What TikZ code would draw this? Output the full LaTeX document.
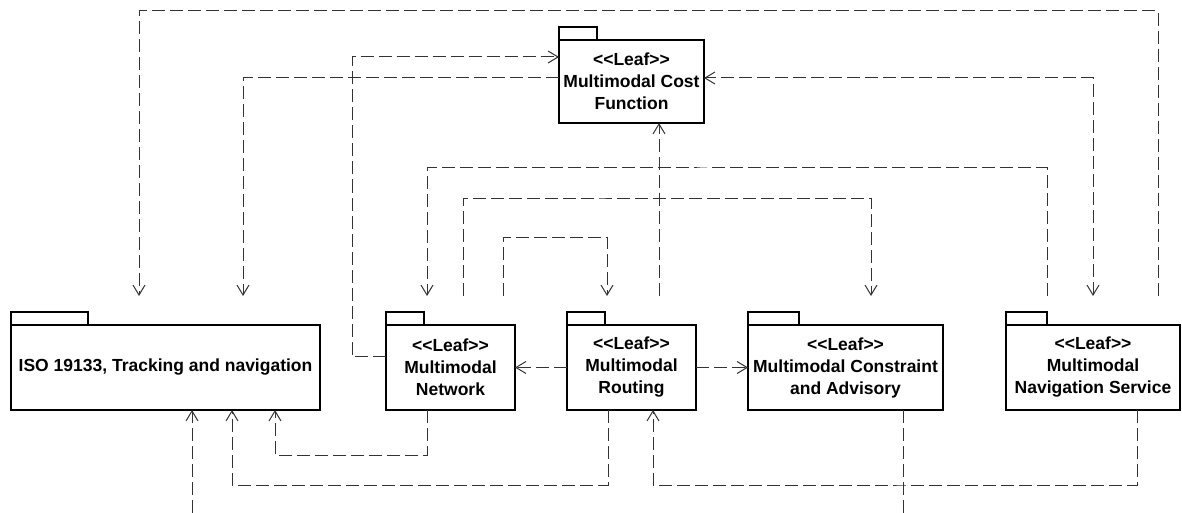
\documentclass[tikz,border=0pt]{standalone}
\usepackage{fontspec}
\setmainfont{Liberation Sans}
\usetikzlibrary{arrows.meta}

\newcommand\leaf{<\kern0pt<Leaf>\kern0pt>}

\begin{document}
\begin{tikzpicture}[x=1pt, y=-1pt, >={Straight Barb[length=10pt, width=12pt]}]
\tikzstyle{pkg} = [draw, line width=2pt, outer sep=0pt, inner sep=2pt, minimum height=85, align=center, font=\fontsize{17.5}{22}\selectfont\bfseries]
\tikzstyle{tab} = [draw, line width=2pt]
\tikzstyle{dep} = [black!80, line width=1pt, dash pattern=on 13pt off 5pt, ->]
\tikzstyle{lift} = [shorten >=29pt]
\useasboundingbox (0,0) rectangle (1182,513);

\node[pkg, minimum width=309] (iso) at (165.5,367.5) {ISO 19133, Tracking and navigation};
\node[pkg, minimum width=129] (net) at (450.5,367.5) {\leaf\\Multimodal\\Network};
\node[pkg, minimum width=129] (rout) at (631.5,367.5) {\leaf\\Multimodal\\Routing};
\node[pkg, minimum width=195] (cons) at (845.5,367.5) {\leaf\\Multimodal Constraint\\and Advisory};
\node[pkg, minimum width=174] (nav) at (1093,367.5) {\leaf\\Multimodal\\Navigation Service};
\node[pkg, minimum width=145, minimum height=83] (cost) at (631.5,81.5) {\leaf\\Multimodal Cost\\Function};

\foreach \n/\w in {iso/77, net/38, rout/38, cons/51, nav/41, cost/38}
  \draw[tab] (\n.north west) rectangle ++(\w,-13);

% bend levels
\coordinate (top) at (600,11);
\coordinate (cf) at (600,78);
\coordinate (k1) at (352,57);
\coordinate (l168) at (700,168);
\coordinate (l198) at (600,198);
\coordinate (l237) at (550,237);
\coordinate (l455) at (350,455);
\coordinate (l485) at (400,485);
\coordinate (r485) at (900,485);
\coordinate (out1) at (903,513);
\coordinate (out2) at (192,513);

% above the row
\draw[dep, lift, shorten <=29pt] ([xshift=65]nav.north) |- (top) -| ([xshift=-26.5]iso.north);
\draw[dep, lift] (cost.west |- cf) -| ([xshift=77.5]iso.north);
\draw[dep] ([yshift=11]net.west) -| (k1) -- (cost.west |- k1);
\draw[dep, <->, shorten <=29pt] (nav.north) |- (cost.east |- cf);
\draw[dep, lift, shorten <=29pt] ([xshift=-46]nav.north) |- (l168) -| ([xshift=-23.5]net.north);
\draw[dep, lift, shorten <=29pt] ([xshift=12.5]net.north) |- (l198) -| ([xshift=25.5]cons.north);
\draw[dep, lift, shorten <=29pt] ([xshift=52.5]net.north) |- (l237) -| ([xshift=-24.5]rout.north);
\draw[dep, shorten <=29pt] ([xshift=27.5]rout.north) -- ([xshift=27.5]cost.south);

% in the row
\draw[dep] (rout.west) -- (net.east);
\draw[dep] (rout.east) -- (cons.west);

% below the row
\draw[dep, -] ([xshift=57.5]cons.south) -- (out1);
\draw[dep] (out2) -- ([xshift=26.5]iso.south);
\draw[dep] ([xshift=-23.5]rout.south) |- (l485) -| ([xshift=66.5]iso.south);
\draw[dep] ([xshift=-23.5]net.south) |- (l455) -| ([xshift=109.5]iso.south);
\draw[dep] ([xshift=44]nav.south) |- (r485) -| ([xshift=21.5]rout.south);

\end{tikzpicture}
\end{document}
